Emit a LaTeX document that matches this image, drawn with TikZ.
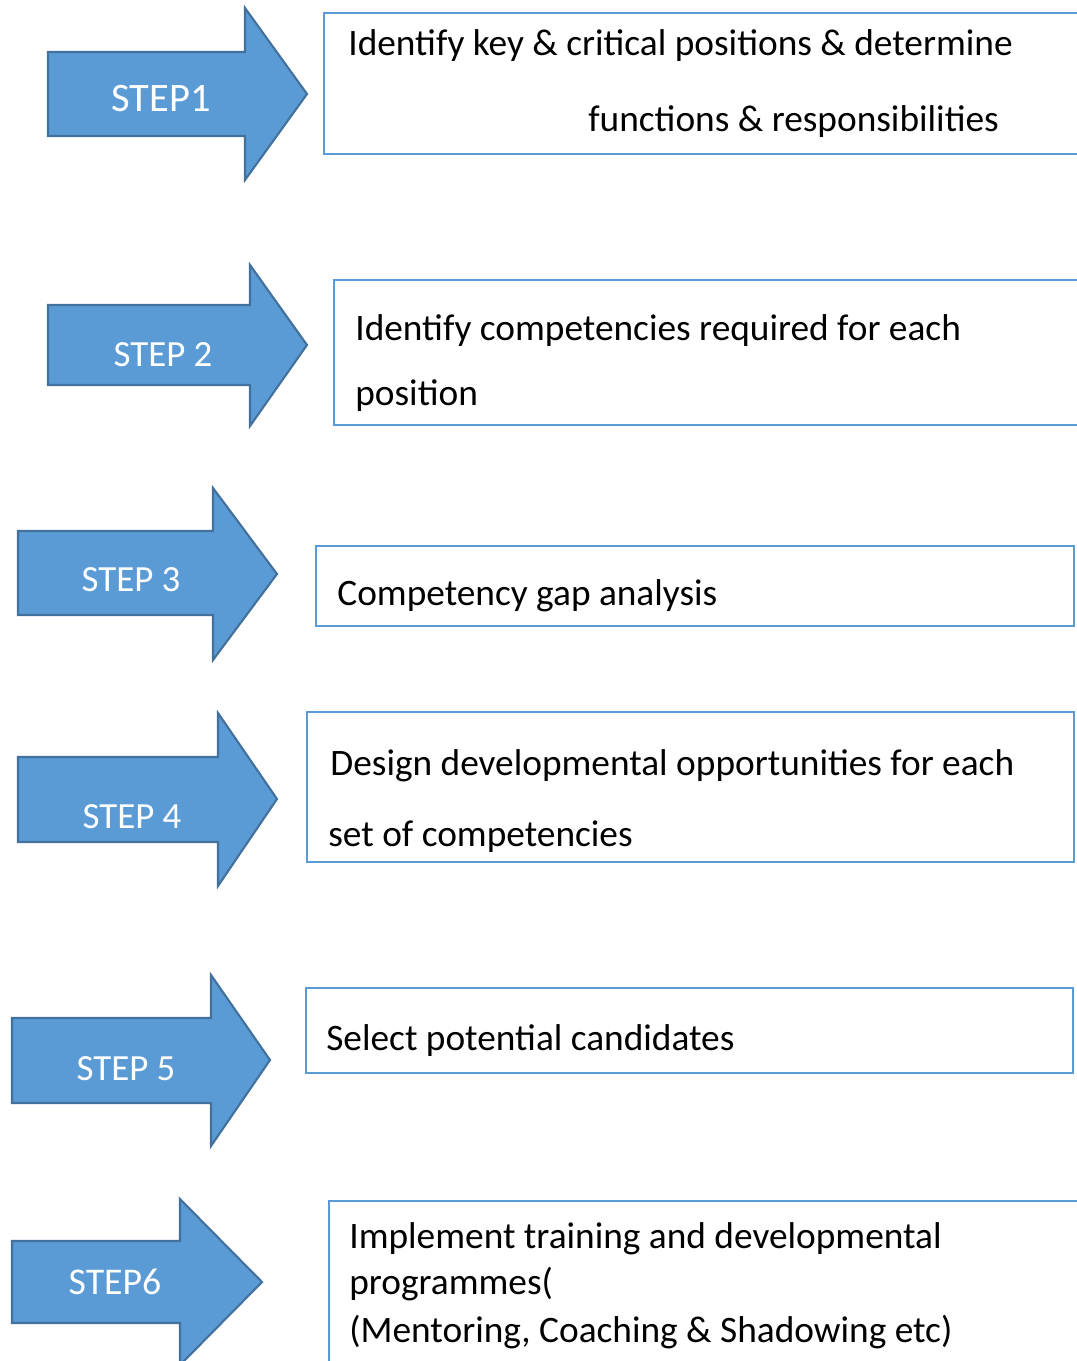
\documentclass[tikz,border=0pt]{standalone}
\usepackage{fontspec}
\setmainfont{Carlito}
\usepackage{tikz}
\usetikzlibrary{positioning}
\usepackage{xcolor}
\definecolor{stepblue}{RGB}{91,155,213}
\definecolor{stepedge}{RGB}{65,113,156}
\tikzstyle{steparrow} = [fill=stepblue, draw=stepedge, line width=1.2pt, line join=miter]
\tikzstyle{steplabel} = [anchor=base, text=white, inner sep=0pt, font=\fontsize{21}{25}\selectfont]
\tikzstyle{stepbox} = [rectangle, anchor=north west, draw=stepblue, line width=1.2pt, inner sep=0pt]
\tikzstyle{boxtext} = [anchor=base west, inner sep=0pt, font=\fontsize{21.25}{25}\selectfont]

\begin{document}
\begin{tikzpicture}[x=0.02cm, y=-0.02cm]
\clip (0,0) rectangle (1077,1361);
\fill[white] (0,0) rectangle (1077,1361);

% Step 1
\draw[steparrow] (48,52) -- (245,52) -- (245,8) -- (307,94) -- (245,180) -- (245,136) -- (48,136) -- cycle;
\node[steplabel, font=\fontsize{23}{27}\selectfont] (step1) at (161,112) {STEP1};
\node[stepbox, minimum width=15.54cm, minimum height=2.82cm] (box1) at (323,12) {};
\node[boxtext] (text1a) at (348,56) {Identify key \& critical positions \& determine};
\node[boxtext] (text1b) at (588,132) {functions \& responsibilities};

% Step 2
\draw[steparrow] (48,305) -- (250,305) -- (250,265) -- (307,345) -- (250,426) -- (250,385) -- (48,385) -- cycle;
\node[steplabel] (step2) at (163,367) {STEP 2};
\node[stepbox, minimum width=15.34cm, minimum height=2.9cm] (box2) at (333,279) {};
\node[boxtext] (text2a) at (355,341) {Identify competencies required for each};
\node[boxtext] (text2b) at (355,405) {position};

% Step 3
\draw[steparrow] (18,531) -- (213,531) -- (213,488) -- (277,574) -- (213,660) -- (213,615) -- (18,615) -- cycle;
\node[steplabel] (step3) at (131,591) {STEP 3};
\node[stepbox, minimum width=15.16cm, minimum height=1.6cm] (box3) at (315,545) {};
\node[boxtext] (text3) at (337,605) {Competency gap analysis};

% Step 4
\draw[steparrow] (18,757) -- (218,757) -- (218,713) -- (277,799) -- (218,886) -- (218,842) -- (18,842) -- cycle;
\node[steplabel] (step4) at (132,828) {STEP 4};
\node[stepbox, minimum width=15.34cm, minimum height=3.0cm] (box4) at (306,711) {};
\node[boxtext] (text4a) at (330,775) {Design developmental opportunities for each};
\node[boxtext] (text4b) at (328,846) {set of competencies};

% Step 5
\draw[steparrow] (12,1018) -- (211,1018) -- (211,975) -- (270,1060) -- (211,1146) -- (211,1103) -- (12,1103) -- cycle;
\node[steplabel] (step5) at (126,1080) {STEP 5};
\node[stepbox, minimum width=15.34cm, minimum height=1.7cm] (box5) at (305,987) {};
\node[boxtext] (text5) at (326,1050) {Select potential candidates};

% Step 6
\draw[steparrow] (12,1241) -- (180,1241) -- (180,1199) -- (262,1282) -- (180,1365) -- (180,1323) -- (12,1323) -- cycle;
\node[steplabel, font=\fontsize{21.5}{25}\selectfont] (step6) at (115,1294) {STEP6};
\node[stepbox, minimum width=15.4cm, minimum height=4cm] (box6) at (328,1200) {};
\node[boxtext] (text6a) at (349,1248) {Implement training and developmental};
\node[boxtext] (text6b) at (349,1294) {programmes(};
\node[boxtext] (text6c) at (349,1342) {(Mentoring, Coaching \& Shadowing etc)};
\end{tikzpicture}
\end{document}
